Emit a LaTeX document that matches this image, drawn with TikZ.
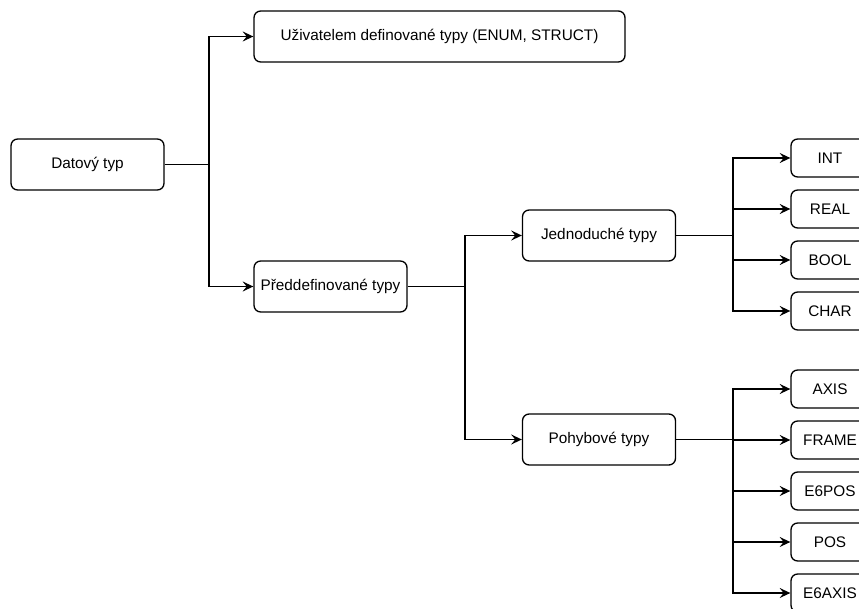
\documentclass[tikz,border=0pt]{standalone}
\usepackage{fontspec}
\setmainfont{Liberation Sans}
\usetikzlibrary{positioning,arrows.meta}

\tikzset{
  box/.style={draw, rounded corners=5pt, line width=1pt, minimum width=114.75pt,
    minimum height=38.25pt, inner sep=2pt, font=\fontsize{11.5}{13}\selectfont},
  leaf/.style={box, minimum width=58.5pt, minimum height=28.5pt},
  conn/.style={line width=1pt},
  arrow/.style={conn, -{Stealth[length=8pt, width=7.5pt, inset=3pt]}}
}

\begin{document}
\begin{tikzpicture}[x=0.75pt, y=-0.75pt, node distance=38.25pt]
    \useasboundingbox (0,0) rectangle (859,609);
    \node (datovy) [box] at (87.5,164.5) {Datový typ};
    \node (uzivatel) [box, minimum width=278.25pt] at (439.5,36.5) {Uživatelem definované typy (ENUM, STRUCT)};
    \node (preddef) [box] at (330.5,286.5) {Předdefinované typy};
    \node (jednoduche) [box] at (599,235.5) {Jednoduché typy};
    \node (pohybove) [box] at (599,439.5) {Pohybové typy};
    % jednoduché typy
    \node (int) [leaf] at (830,158) {INT};
    \node (real) [leaf, below of = int] {REAL};
    \node (bool) [leaf, below of = real] {BOOL};
    \node (char) [leaf, below of = bool] {CHAR};
    % pohybové typy
    \node (axis) [leaf] at (830,389) {AXIS};
    \node (frame) [leaf, below of = axis] {FRAME};
    \node (epos) [leaf, below of = frame] {E6POS};
    \node (pos) [leaf, below of = epos] {POS};
    \node (eaxis) [leaf, below of = pos] {E6AXIS};
    % branch points
    \coordinate (b1) at (209,0);
    \coordinate (b2) at (465,0);
    \coordinate (b3) at (733,0);
    \draw[conn] (datovy.east) -- (datovy.east -| b1);
    \draw[arrow] (datovy.east -| b1) |- (uzivatel.west);
    \draw[arrow] (datovy.east -| b1) |- (preddef.west);
    \draw[conn] (preddef.east) -- (preddef.east -| b2);
    \draw[arrow] (preddef.east -| b2) |- (jednoduche.west);
    \draw[arrow] (preddef.east -| b2) |- (pohybove.west);
    \draw[conn] (jednoduche.east) -- (jednoduche.east -| b3);
    \foreach \n in {int,real,bool,char}
        \draw[arrow] (jednoduche.east -| b3) |- (\n.west);
    \draw[conn] (pohybove.east) -- (pohybove.east -| b3);
    \foreach \n in {axis,frame,epos,pos,eaxis}
        \draw[arrow] (pohybove.east -| b3) |- (\n.west);
\end{tikzpicture}
\end{document}
